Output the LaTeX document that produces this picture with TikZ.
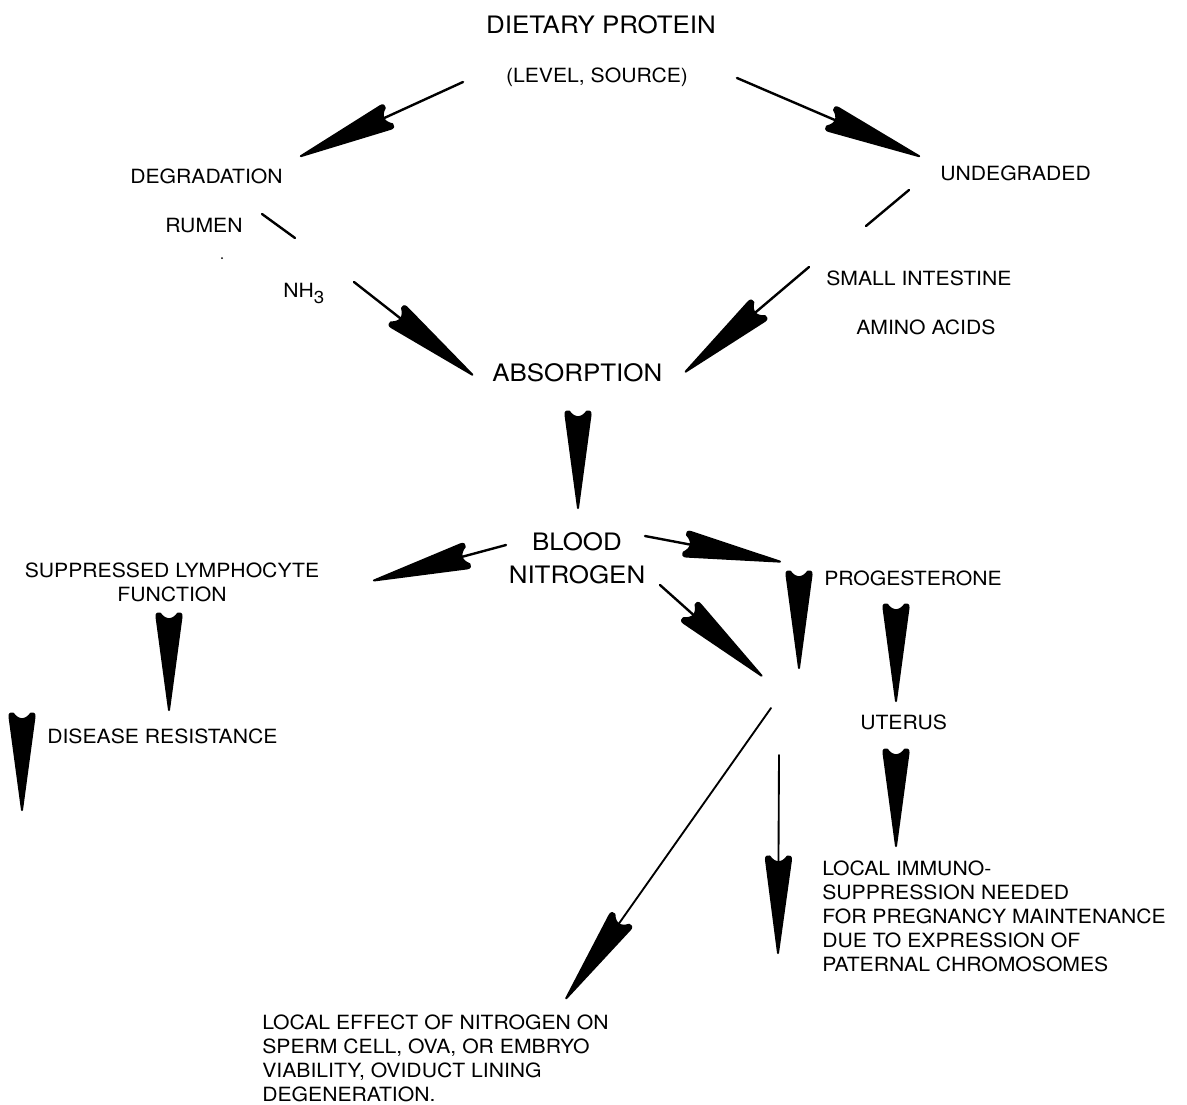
\documentclass[tikz,border=0pt]{standalone}
\usepackage{fontspec}
\setmainfont{TeX Gyre Heros}[FakeStretch=1.08]
\usetikzlibrary{calc}
\tikzset{
  lbl/.style={inner sep=0pt, font=\fontsize{14.7}{18}\selectfont, align=left},
  big/.style={inner sep=0pt, font=\fontsize{18}{24.75}\selectfont},
  tail/.style={line width=1.8pt, line cap=round},
  thintail/.style={line width=1.4pt, line cap=round},
  dartsty/.style={fill=black, draw=black, line width=1.5pt, line join=round},
}
\newcommand\dartat[2]{%
  \filldraw[dartsty] let \p1=($(#2)-(#1)$), \n1={atan2(\y1,\x1)} in
   [shift={(#2)}, rotate=\n1]
   (-2,0) -- (-95,12.5) .. controls (-98,13) and (-99.5,11) .. (-98.5,9)
   .. controls (-91,3.5) and (-91,-3.5) .. (-98.5,-9)
   .. controls (-99.5,-11) and (-98,-13) .. (-95,-12.5) -- cycle;}
\newcommand\dartline[3][tail]{%
  \draw[#1] (#2) -- ($(#3)!65pt!(#2)$);
  \dartat{#2}{#3}}
\begin{document}
\begin{tikzpicture}[x=0.75pt, y=-0.75pt]
\useasboundingbox (0,0) rectangle (1187,1104);
% labels
\node[big, anchor=base] (diet) at (601,33.5) {DIETARY PROTEIN};
\node[lbl, anchor=base] (level) at (597,82) {(LEVEL, SOURCE)};
\node[lbl, anchor=base west] (degr) at (130,183) {DEGRADATION};
\node[lbl, anchor=base west] (undeg) at (940,180) {UNDEGRADED};
\node[lbl, anchor=base west] (rumen) at (165,232) {RUMEN};
\node[lbl, anchor=base west] (nh) at (283,297) {NH{\fontsize{13}{13}\selectfont\raisebox{-5pt}{3}}};
\node[lbl, anchor=base west] (small) at (826,285) {SMALL INTESTINE};
\node[lbl, anchor=base west] (amino) at (856,334) {AMINO ACIDS};
\node[big, anchor=base west] (abs) at (492,381.5) {ABSORPTION};
\node[big, anchor=north, align=center] (blood) at (577,532.5) {BLOOD\\NITROGEN};
\node[lbl, anchor=north, align=center] (supp) at (172,563) {SUPPRESSED LYMPHOCYTE\\FUNCTION};
\node[lbl, anchor=base west] (dis) at (47,743) {DISEASE RESISTANCE};
\node[lbl, anchor=base west] (prog) at (824,585) {PROGESTERONE};
\node[lbl, anchor=base west] (ut) at (860,729) {UTERUS};
\node[lbl, anchor=north west] (immu) at (822,861) {LOCAL IMMUNO-\\SUPPRESSION NEEDED\\FOR PREGNANCY MAINTENANCE\\DUE TO EXPRESSION OF\\PATERNAL CHROMOSOMES};
\node[lbl, anchor=north west] (loc) at (262,1015) {LOCAL EFFECT OF NITROGEN ON\\SPERM CELL, OVA, OR EMBRYO\\VIABILITY, OVIDUCT LINING\\DEGENERATION.};
% connector coordinates
\coordinate (s1) at (463,82);  \coordinate (t1) at (299,157);
\coordinate (s2) at (737,78);  \coordinate (t2) at (921,157);
\coordinate (r1) at (262,214); \coordinate (r2) at (295,238);
\coordinate (s3) at (354,282); \coordinate (t3) at (474,376);
\coordinate (u1) at (909,190); \coordinate (u2) at (866,226);
\coordinate (s4) at (809,267); \coordinate (t4) at (684,373);
\coordinate (b5) at (578,408); \coordinate (t5) at (578,510);
\coordinate (s6) at (506,545); \coordinate (t6) at (372,581);
\coordinate (s7) at (645,536); \coordinate (t7) at (782,562);
\coordinate (s8) at (660,585); \coordinate (t8) at (763,677);
\coordinate (b9) at (799,568); \coordinate (t9) at (799,670);
\coordinate (b10) at (896,603); \coordinate (t10) at (896,703);
\coordinate (b11) at (896,746); \coordinate (t11) at (896,848);
\coordinate (b12) at (169,613); \coordinate (t12) at (169,712);
\coordinate (b13) at (22,712); \coordinate (t13) at (22,812);
\coordinate (s14) at (771,708); \coordinate (t14) at (565,1000);
\coordinate (s15) at (779,755); \coordinate (t15) at (778,955);
\coordinate (speck) at (222,258);
% connectors
\dartline{s1}{t1}
\dartline{s2}{t2}
\draw[tail] (r1) -- (r2);
\dartline{s3}{t3}
\draw[tail] (u1) -- (u2);
\dartline{s4}{t4}
\dartat{b5}{t5}
\dartline{s6}{t6}
\dartline{s7}{t7}
\dartline{s8}{t8}
\dartat{b9}{t9}
\dartat{b10}{t10}
\dartat{b11}{t11}
\dartat{b12}{t12}
\dartat{b13}{t13}
\dartline[thintail]{s14}{t14}
\dartline[thintail]{s15}{t15}
\fill (speck) circle (1);
\end{tikzpicture}
\end{document}
